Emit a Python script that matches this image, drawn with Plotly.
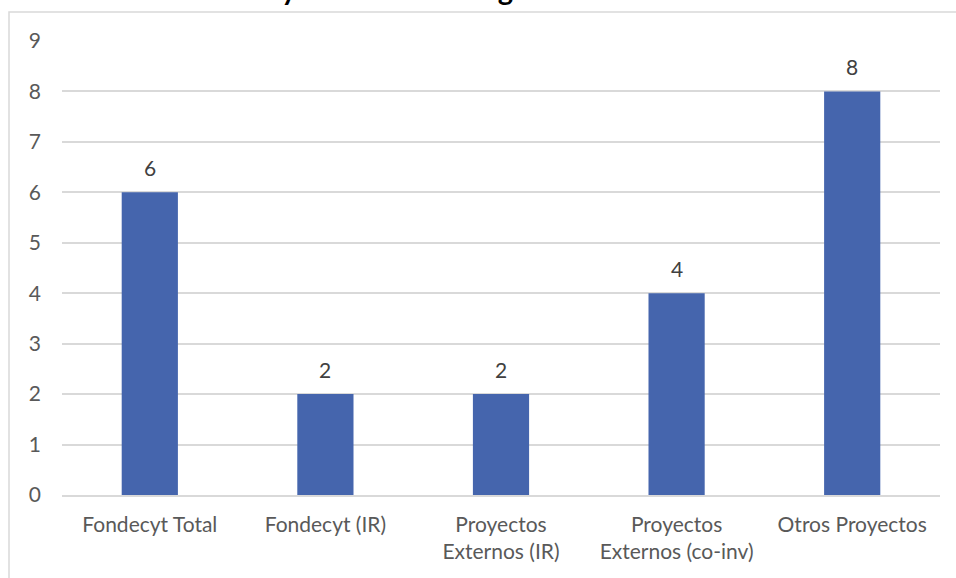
import plotly.graph_objects as go

categories = ["Fondecyt Total", "Fondecyt (IR)", "Proyectos<br>Externos (IR)",
              "Proyectos<br>Externos (co-inv)", "Otros Proyectos"]
values = [6, 2, 2, 4, 8]
y_ticks = list(range(0, 10))
title_text = "Proyectos de Investigación"

FONT = "Lato"
BAR = "#4565AD"
GRID = "#D9D9D9"
TXT = "#595959"

W, H = 956, 578
ml, mr, mt, mb = 62, 16, 41, 83
pw, ph = W - ml - mr, H - mt - mb

def px_x(p):
    return (p - ml) / pw

def px_y(p):
    return (H - mb - p) / ph

fig = go.Figure(go.Bar(x=categories, y=values, marker_color=BAR,
                       marker_line_width=0, hoverinfo="skip"))

for c, v in zip(categories, values):
    fig.add_annotation(x=c, y=v, text=str(v), showarrow=False, yanchor="bottom",
                       yshift=10, font=dict(family=FONT, size=21, color="#404040"))

fig.add_annotation(xref="paper", yref="paper", x=px_x(235), y=px_y(8),
                   xanchor="left", yanchor="bottom", showarrow=False,
                   text="<b>" + title_text + "</b>",
                   font=dict(family=FONT, size=29, color="#000000"))

fig.add_shape(type="rect", xref="paper", yref="paper",
              x0=px_x(9), x1=px_x(990), y0=px_y(12), y1=px_y(620),
              line=dict(color=GRID, width=1.5), fillcolor="rgba(0,0,0,0)", layer="below")

fig.update_layout(
    width=W, height=H,
    margin=dict(l=ml, r=mr, t=mt, b=mb),
    paper_bgcolor="white", plot_bgcolor="white",
    bargap=0.68, showlegend=False,
    font=dict(family=FONT, size=21, color=TXT),
    xaxis=dict(showgrid=False, showline=True, linecolor=GRID, linewidth=1.5,
               ticks="", tickfont=dict(family=FONT, size=21, color=TXT),
               ticklabelstandoff=10, fixedrange=True),
    yaxis=dict(range=[0, 9], tickvals=y_ticks, showgrid=True, gridcolor=GRID,
               gridwidth=1.5, zeroline=False, showline=False, ticks="",
               tickfont=dict(family=FONT, size=21, color=TXT),
               ticklabelstandoff=20, fixedrange=True),
)

fig.write_html("out.html", config={"displayModeBar": False},
               post_script="document.body.style.margin='0';document.body.style.overflow='hidden';")
